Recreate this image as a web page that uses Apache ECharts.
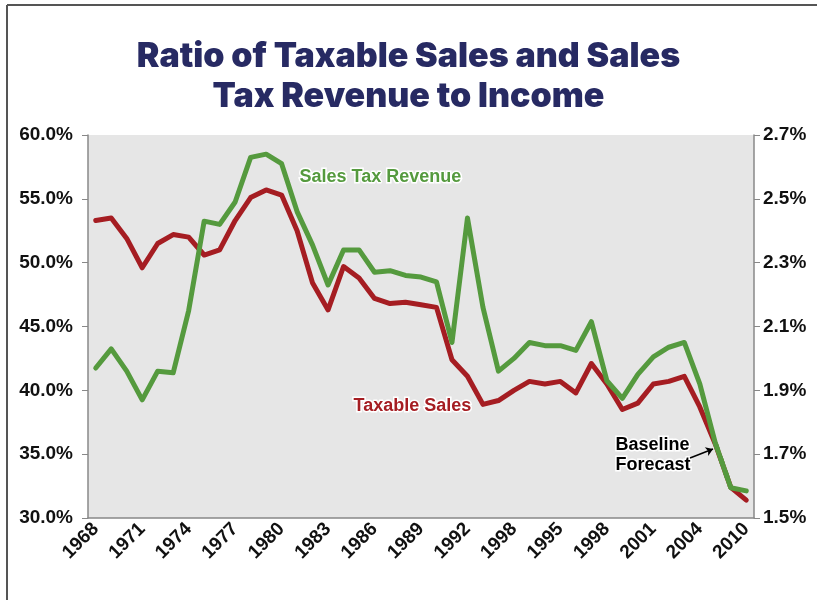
<!DOCTYPE html>
<html>
<head>
<meta charset="utf-8">
<title>Ratio of Taxable Sales and Sales Tax Revenue to Income</title>
<script src="https://cdn.jsdelivr.net/npm/echarts@6/dist/echarts.min.js"></script>
<style>
  html, body { margin: 0; padding: 0; background: #fff; }
  #myChart { width: 817px; height: 600px; }
</style>
</head>
<body>
<div id="myChart"></div>
<script>
// years on the x axis, 1968 - 2010
const years = [1968, 1969, 1970, 1971, 1972, 1973, 1974, 1975, 1976, 1977,
  1978, 1979, 1980, 1981, 1982, 1983, 1984, 1985, 1986, 1987,
  1988, 1989, 1990, 1991, 1992, 1993, 1994, 1995, 1996, 1997,
  1998, 1999, 2000, 2001, 2002, 2003, 2004, 2005, 2006, 2007,
  2008, 2009, 2010]
// labels as printed on the original (every third year)
const tickLabels = ['1968', '1971', '1974', '1977', '1980', '1983', '1986', '1989',
  '1992', '1998', '1995', '1998', '2001', '2004', '2010']

// taxable sales / income, % (left axis)
const taxableSales = [53.3, 53.5, 51.9, 49.6, 51.5, 52.2, 52.0, 50.6, 51.0, 53.3,
  55.1, 55.7, 55.3, 52.5, 48.4, 46.3, 49.7, 48.8, 47.2, 46.8,
  46.9, 46.7, 46.5, 42.4, 41.1, 38.9, 39.2, 40.0, 40.7, 40.5,
  40.7, 39.8, 42.1, 40.5, 38.5, 39.0, 40.5, 40.7, 41.1, 38.7,
  35.8, 32.4, 31.4]

// sales tax revenue / income, % (right axis)
const salesTaxRevenue = [1.97, 2.03, 1.96, 1.87, 1.96, 1.955, 2.15, 2.43, 2.42, 2.49,
  2.63, 2.64, 2.61, 2.46, 2.355, 2.23, 2.34, 2.34, 2.27, 2.275,
  2.26, 2.255, 2.24, 2.05, 2.44, 2.16, 1.96, 2.0, 2.05, 2.04,
  2.04, 2.025, 2.115, 1.93, 1.875, 1.95, 2.005, 2.035, 2.05, 1.92,
  1.735, 1.595, 1.585]

// the two lines overlap (shown dashed) between these indexes
const overlapFrom = 40
const overlapTo = 41

const leftTicks = { min: 30, max: 60, step: 5 }
const rightTicks = { min: 1.5, max: 2.7, step: 0.2 }

const RED = '#a51d22'
const GREEN = '#559a3e'
const NAVY = '#272a63'
const labelFont = '"Liberation Sans", Arial, sans-serif'

// right axis is drawn from 0 so ticks land on multiples of the step
const rightOffset = rightTicks.min
const revShift = salesTaxRevenue.map(v => +(v - rightOffset).toFixed(4))
const revActual = revShift.map((v, i) => (i <= overlapFrom || i >= overlapTo) ? v : null)
const revOverlap = revShift.map((v, i) => (i >= overlapFrom && i <= overlapTo) ? v : null)

let myChart = echarts.init(document.getElementById('myChart'))
myChart.setOption({
  backgroundColor: '#fff',
  animation: false,
  title: {
    text: 'Ratio of Taxable Sales and Sales\nTax Revenue to Income',
    left: 'center',
    top: 32,
    textStyle: {
      fontFamily: 'Inter, "DejaVu Sans", sans-serif',
      fontSize: 34,
      fontWeight: 900,
      color: NAVY,
      lineHeight: 40
    }
  },
  grid: {
    show: true,
    left: 88,
    right: 63,
    top: 135,
    bottom: 82,
    backgroundColor: '#e6e6e6',
    borderWidth: 0
  },
  xAxis: {
    type: 'category',
    boundaryGap: true,
    data: years,
    axisLine: { lineStyle: { color: '#888', width: 1.5 } },
    axisTick: { inside: true, length: 5, interval: 0, lineStyle: { color: '#888' } },
    axisLabel: {
      interval: 2,
      rotate: 45,
      margin: 8,
      fontFamily: labelFont,
      fontWeight: 'bold',
      fontSize: 19,
      color: '#111',
      formatter: (v, idx) => tickLabels[Math.round(idx / 3)]
    },
    splitLine: { show: false }
  },
  yAxis: [{
    type: 'value',
    min: leftTicks.min,
    max: leftTicks.max,
    interval: leftTicks.step,
    axisLine: { show: true, lineStyle: { color: '#888', width: 1.5 } },
    axisTick: { show: true, length: 6, lineStyle: { color: '#888' } },
    axisLabel: {
      margin: 15,
      fontFamily: labelFont,
      fontWeight: 'bold',
      fontSize: 19,
      color: '#111',
      formatter: v => v.toFixed(1) + '%'
    },
    splitLine: { show: false }
  }, {
    type: 'value',
    position: 'right',
    min: 0,
    max: +(rightTicks.max - rightOffset).toFixed(4),
    interval: rightTicks.step,
    axisLine: { show: true, lineStyle: { color: '#888', width: 1.5 } },
    axisTick: { show: true, length: 6, lineStyle: { color: '#888' } },
    axisLabel: {
      margin: 9,
      fontFamily: labelFont,
      fontWeight: 'bold',
      fontSize: 19,
      color: '#111',
      formatter: v => (v + rightOffset).toFixed(1) + '%'
    },
    splitLine: { show: false }
  }],
  series: [{
    name: 'Taxable Sales',
    type: 'line',
    yAxisIndex: 0,
    data: taxableSales,
    symbol: 'none',
    z: 2,
    lineStyle: { color: RED, width: 5, join: 'round', cap: 'round' }
  }, {
    name: 'Sales Tax Revenue',
    type: 'line',
    yAxisIndex: 1,
    data: revActual,
    connectNulls: false,
    symbol: 'none',
    z: 3,
    lineStyle: { color: GREEN, width: 5, join: 'round', cap: 'round' }
  }, {
    name: 'Sales Tax Revenue (overlap)',
    type: 'line',
    yAxisIndex: 1,
    data: revOverlap,
    connectNulls: false,
    symbol: 'none',
    z: 4,
    lineStyle: { color: GREEN, width: 5, type: [8, 7] },
    markLine: {
      silent: true,
      symbol: ['none', 'arrow'],
      symbolSize: 7,
      label: { show: false },
      lineStyle: { color: '#000', width: 1.5, type: 'solid' },
      data: [[{ x: 690, y: 458 }, { x: 713, y: 449 }]]
    }
  }],
  graphic: [
    // outer frame (left and top edges)
    { type: 'line', shape: { x1: 7, y1: 5, x2: 7, y2: 600 }, style: { stroke: '#555', lineWidth: 2 } },
    { type: 'line', shape: { x1: 7, y1: 5, x2: 817, y2: 5 }, style: { stroke: '#555', lineWidth: 2 } },
    {
      type: 'text', left: 298, top: 167,
      style: {
        text: 'Sales Tax Revenue', fill: GREEN, font: 'bold 18px ' + labelFont,
        stroke: '#fff', lineWidth: 3
      }
    },
    {
      type: 'text', left: 352, top: 396,
      style: {
        text: 'Taxable Sales', fill: RED, font: 'bold 18px ' + labelFont,
        stroke: '#fff', lineWidth: 3
      }
    },
    {
      type: 'text', left: 614, top: 435,
      style: {
        text: 'Baseline\nForecast', fill: '#000', font: 'bold 18px ' + labelFont,
        lineHeight: 20, stroke: '#fff', lineWidth: 3
      }
    }
  ]
})
</script>
</body>
</html>
